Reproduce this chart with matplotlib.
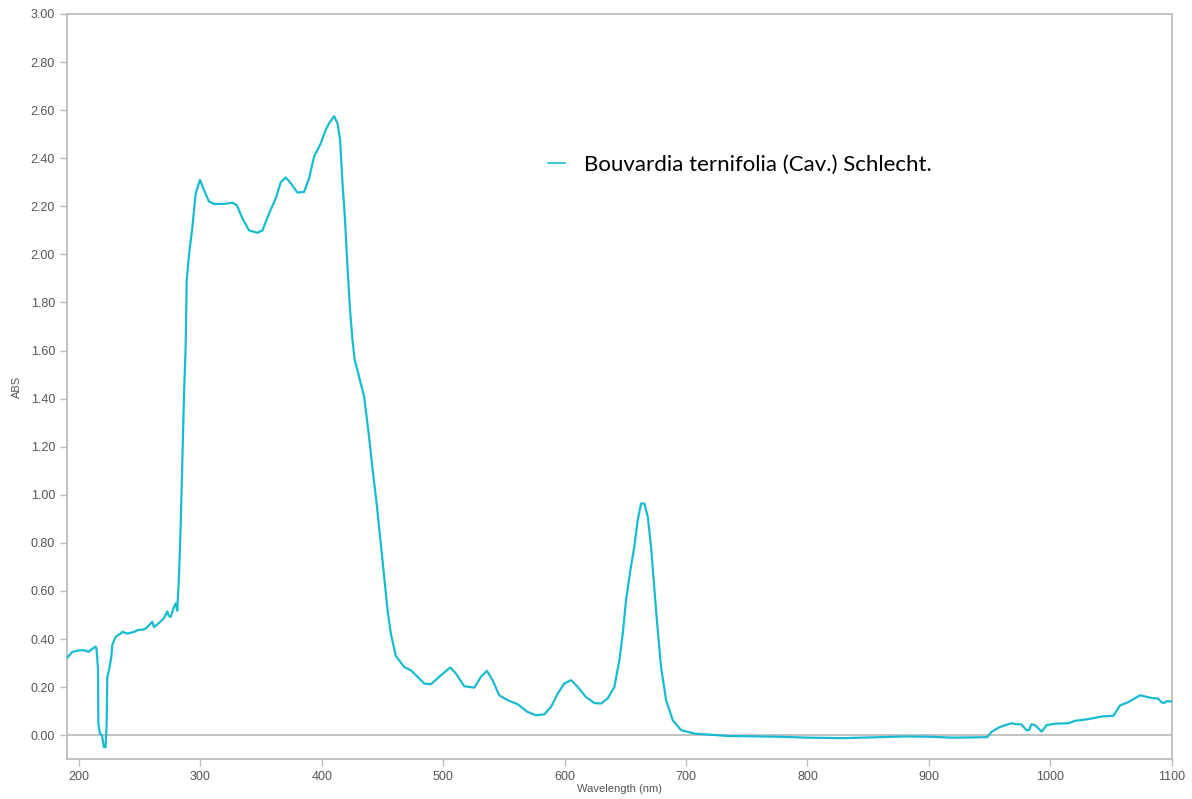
"""UV-Vis absorbance spectrum of a plant extract."""

import matplotlib
matplotlib.use("Agg")  # non-interactive backend
import matplotlib.pyplot as plt
from matplotlib.ticker import FormatStrFormatter, MultipleLocator

# Spectrum (nm, ABS)
wavelength = [
    190, 194.6, 199, 204, 208, 211, 213.8, 214.5, 215.7, 216, 217.3, 219, 220.6,
    222, 222.8, 223.4, 224.8, 226.7, 227.5, 230.3, 234.4, 235.8, 240, 245.5, 248,
    253.5, 256, 260.4, 261.8, 265.9, 270, 272.8, 274, 275.6, 278, 279.7, 281,
    282.4, 283.8, 285.2, 286.6, 287.9, 288.8, 290.7, 293.5, 296.2,
    299.7, 303, 307.1, 311.3, 319.5, 326.4, 330, 334.7, 340.1, 347, 351.2, 356.6,
    362.1, 366.2, 370.4, 374.5, 380, 385.5, 389.6, 393.7, 399.2, 403.3, 406,
    410.2, 413, 415.1, 417.1, 419, 421.2, 423.1, 425.3, 427.2,
    430.8, 434.9, 439, 442, 445.3, 448.6, 451.4, 454.2, 457, 461, 467.9,
    473.4, 478.9, 484.4, 489.9, 496.7, 505.8, 510.5, 517.3, 525.6, 531.1, 536,
    540.7, 546.2, 553, 561.3, 569.5, 576.4, 583.3, 588.8, 594.3, 599.7, 605.3,
    610.8, 617.6, 624.5, 630, 635.5, 641, 645.1, 647.9, 650.6, 654.2, 657.4,
    660.2, 663, 665.7, 668.5, 671.2, 674, 676.7, 679.4, 683.6, 689.1, 696,
    707, 734.4, 775.6, 800, 830, 860, 880, 900, 920, 948,
    951.5, 958.3, 968, 972, 976.2, 980.4, 982.5, 984.5, 988, 992.8, 996.9,
    1003.8, 1014.8, 1020.3, 1031.3, 1042.3, 1051.9, 1057.4, 1064.3, 1073.8,
    1083.5, 1089, 1091.7, 1094, 1096, 1100,
]
absorbance = [
    0.32, 0.347, 0.352, 0.354, 0.347, 0.36, 0.368, 0.36, 0.28, 0.05, 0.007, 0.0,
    -0.049, -0.05, 0.035, 0.243, 0.27, 0.326, 0.375, 0.41, 0.423, 0.43, 0.423,
    0.43, 0.437, 0.44, 0.448, 0.472, 0.45, 0.466, 0.487, 0.515, 0.497, 0.492,
    0.53, 0.548, 0.518, 0.659, 0.867, 1.144, 1.42, 1.616, 1.893, 2.0, 2.115,
    2.254, 2.31, 2.268, 2.22, 2.21, 2.21, 2.215, 2.205, 2.15, 2.1, 2.09,
    2.1, 2.17, 2.233, 2.3, 2.32, 2.296, 2.257, 2.26, 2.317, 2.407, 2.462,
    2.518, 2.545, 2.575, 2.545, 2.476, 2.296, 2.157, 1.949, 1.782, 1.644, 1.56,
    1.49, 1.408, 1.24, 1.10, 0.96, 0.80, 0.66, 0.52, 0.42, 0.33, 0.284, 0.27,
    0.243, 0.215, 0.212, 0.243, 0.282, 0.257, 0.204,
    0.198, 0.243, 0.268, 0.229, 0.166, 0.146, 0.129, 0.097, 0.083, 0.087,
    0.118, 0.173, 0.215, 0.229, 0.201, 0.159, 0.134, 0.132, 0.153, 0.201,
    0.312, 0.423, 0.562, 0.687, 0.784, 0.895, 0.964, 0.964, 0.908, 0.784,
    0.603, 0.437, 0.284, 0.146, 0.062, 0.021, 0.007, -0.003,
    -0.006, -0.01, -0.012, -0.008, -0.005, -0.006, -0.01, -0.008, 0.014, 0.034,
    0.05, 0.046, 0.045, 0.021, 0.022, 0.046, 0.04, 0.015, 0.042, 0.048, 0.05,
    0.06, 0.067, 0.078, 0.081, 0.124, 0.138, 0.166, 0.155, 0.152, 0.136,
    0.135, 0.142, 0.14,
]
series_label = "Bouvardia ternifolia (Cav.) Schlecht."

LINE_COLOR = "#17bcd1"
FRAME_COLOR = "#bdbdbd"
TEXT_COLOR = "#555555"

fig = plt.figure(figsize=(11.92, 7.99), dpi=100)
ax = fig.add_axes([0.056, 0.0497, 0.927, 0.9328])

ax.axhline(0, color=FRAME_COLOR, linewidth=1.3, zorder=1)
ax.plot(wavelength, absorbance, color=LINE_COLOR, linewidth=1.6, label=series_label, zorder=3)

ax.set_xlim(190, 1100)
ax.set_ylim(-0.10, 3.0)
ax.xaxis.set_major_locator(MultipleLocator(100))
ax.yaxis.set_major_locator(MultipleLocator(0.2))
ax.yaxis.set_major_formatter(FormatStrFormatter("%.2f"))

for spine in ax.spines.values():
    spine.set_color(FRAME_COLOR)
    spine.set_linewidth(1.3)
ax.tick_params(colors=FRAME_COLOR, labelcolor=TEXT_COLOR, labelsize=9,
               length=5, width=1, direction="out")
for lbl in ax.get_xticklabels() + ax.get_yticklabels():
    lbl.set_fontfamily("Liberation Sans")

ax.set_xlabel("Wavelength (nm)", fontsize=8, color=TEXT_COLOR, family="Liberation Sans", labelpad=1)
ax.set_ylabel("ABS", fontsize=8, color=TEXT_COLOR, family="Liberation Sans", labelpad=6)

leg = ax.legend(loc="center left", bbox_to_anchor=(0.4356, 0.798), frameon=False,
                borderpad=0, borderaxespad=0, handlelength=0.77, handletextpad=0.86,
                prop={"family": "Lato", "size": 16})
for line in leg.get_lines():
    line.set_linewidth(1.2)

fig.savefig("out.png", dpi=100)
plt.close(fig)
